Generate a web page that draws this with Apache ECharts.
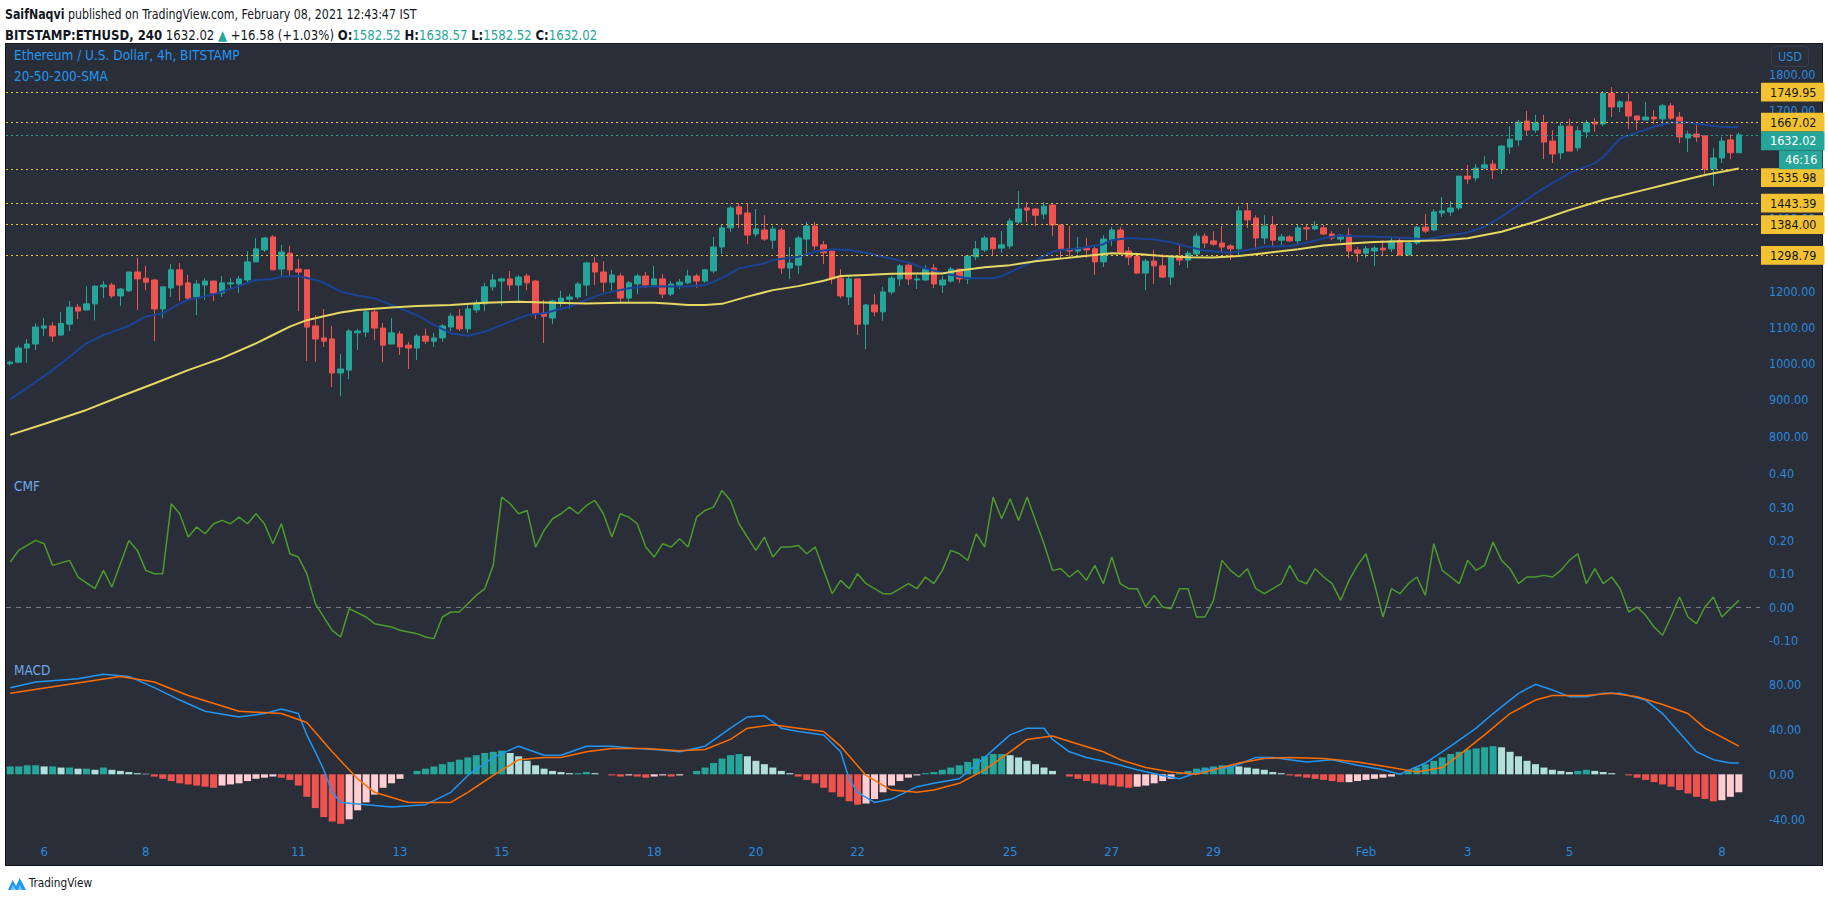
<!DOCTYPE html>
<html><head><meta charset="utf-8">
<script src="https://cdn.jsdelivr.net/npm/echarts@6.0.0/dist/echarts.min.js"></script>
<style>
html,body{margin:0;padding:0;background:#fff;width:1828px;height:902px;overflow:hidden;font-family:'DejaVu Sans Condensed','Liberation Sans Narrow',sans-serif;}
#panel{position:absolute;left:5px;top:43px;width:1816px;height:821px;background:#2a2e39;border:1px solid #14161d;}
#chart{position:absolute;left:0;top:0;width:1828px;height:902px;}
.hdr{position:absolute;left:5px;font-size:14px;color:#131722;white-space:nowrap;line-height:16px;transform-origin:0 50%;}
.tv{color:#26a69a;}
#usd{position:absolute;left:1771px;top:46px;width:36px;height:19px;border:1px solid #3a3e4a;border-radius:4px;color:#2b89dd;font-size:12.5px;line-height:19px;text-align:center;}
#foot{position:absolute;left:8px;top:874px;height:18px;font-size:13px;color:#131722;line-height:18px;transform-origin:0 50%;transform:scaleX(0.9);}
#foot svg{vertical-align:middle;margin-right:3px;}
</style></head>
<body>
<div class="hdr" style="top:6px;transform:scaleX(0.875)"><b>SaifNaqvi</b> published on TradingView.com, February 08, 2021 12:43:47 IST</div>
<div class="hdr" style="top:27px;transform:scaleX(0.93)"><b>BITSTAMP:ETHUSD, 240</b> 1632.02 <span class="tv">&#9650;</span> +16.58 (+1.03%) <b>O:</b><span class="tv">1582.52</span> <b>H:</b><span class="tv">1638.57</span> <b>L:</b><span class="tv">1582.52</span> <b>C:</b><span class="tv">1632.02</span></div>
<div id="panel"></div>
<div id="chart"></div>
<div id="usd">USD</div>
<div id="foot"><svg width="20" height="16" viewBox="0 0 20 16"><path d="M0 14 L5 4 L9 10 L13 2 L20 14 Z" fill="#2196f3"/><path d="M3 14 L5.5 9 L9 14 Z M11 14 L13 9 L16 14 Z" fill="#7fc3f7"/></svg>TradingView</div>
<script>
// ---- DATA ----
const dayTickIndex = [4,16,34,46,58,76,88,100,118,130,142,160,172,184,202];
const dayTickLabel = ['6','8','11','13','15','18','20','22','25','27','29','Feb','3','5','8'];

const open = [
1000,1004,1043,1054,1098,1104,1079,1109,1156,1148,
1165,1212,1217,1187,1201,1253,1236,1231,1151,1209,
1259,1223,1184,1217,1228,1195,1220,1220,1231,1281,
1314,1350,1261,1305,1261,1259,1104,1071,1068,974,
982,1085,1087,1143,1098,1054,1082,1051,1043,1076,
1062,1071,1101,1131,1096,1148,1165,1212,1228,1234,
1217,1242,1228,1140,1126,1167,1178,1184,1217,1278,
1253,1225,1242,1181,1220,1242,1217,1234,1192,1217,
1223,1242,1228,1256,1322,1375,1433,1416,1358,1369,
1341,1369,1264,1272,1344,1380,1328,1311,1236,1184,
1234,1109,1162,1143,1198,1234,1272,1231,1231,1264,
1217,1228,1261,1234,1295,1314,1347,1319,1325,1391,
1430,1427,1413,1438,1383,1317,1311,1319,1317,1281,
1341,1369,1311,1297,1250,1283,1270,1239,1292,1286,
1303,1352,1339,1333,1325,1317,1422,1402,1347,1383,
1341,1350,1339,1375,1372,1375,1358,1344,1355,1314,
1305,1311,1319,1317,1339,1300,1333,1377,1369,1416,
1419,1430,1518,1513,1540,1551,1538,1598,1618,1670,
1645,1665,1615,1582,1656,1596,1640,1667,1662,1747,
1709,1723,1684,1673,1681,1676,1712,1681,1623,1634,
1629,1538,1568,1618,1582.52];
const high = [
1008,1050,1068,1111,1126,1115,1143,1173,1165,1213,
1217,1228,1223,1209,1253,1292,1270,1234,1214,1275,
1278,1245,1231,1236,1228,1242,1236,1242,1311,1347,
1350,1355,1328,1325,1289,1259,1134,1151,1104,1026,
1096,1096,1151,1148,1112,1126,1090,1060,1082,1096,
1085,1109,1140,1151,1162,1176,1223,1248,1237,1256,
1245,1248,1231,1176,1176,1201,1192,1225,1281,1295,
1283,1259,1250,1228,1248,1253,1270,1248,1228,1234,
1259,1248,1261,1350,1386,1435,1444,1441,1427,1410,
1380,1375,1322,1353,1391,1391,1339,1311,1261,1242,
1236,1165,1192,1212,1242,1275,1278,1245,1272,1275,
1242,1267,1261,1297,1339,1353,1350,1366,1402,1477,
1446,1430,1446,1444,1383,1380,1350,1347,1322,1355,
1377,1377,1322,1303,1289,1314,1303,1294,1328,1311,
1361,1361,1366,1380,1330,1435,1441,1410,1410,1408,
1358,1355,1383,1383,1394,1383,1366,1358,1375,1322,
1325,1325,1341,1350,1347,1339,1380,1413,1427,1460,
1449,1518,1549,1551,1573,1562,1604,1656,1673,1698,
1687,1687,1645,1667,1676,1656,1673,1678,1753,1764,
1728,1745,1684,1723,1700,1717,1720,1695,1643,1659,
1631,1596,1626,1634,1638.57];
const low = [
995,1002,1002,1037,1076,1060,1076,1090,1123,1147,
1119,1181,1181,1159,1198,1148,1203,1062,1126,1184,
1173,1173,1134,1176,1173,1184,1209,1195,1225,1281,
1308,1259,1239,1242,1145,1007,1005,1046,935,910,
957,1038,1073,1065,1004,1054,1024,985,1010,1054,
1046,1060,1090,1090,1085,1140,1145,1201,1159,1201,
1170,1203,1123,1057,1109,1156,1151,1178,1187,1217,
1198,1201,1167,1167,1192,1209,1217,1181,1187,1206,
1220,1209,1223,1250,1303,1364,1375,1330,1350,1339,
1317,1248,1234,1248,1303,1314,1275,1220,1181,1162,
1079,1040,1131,1118,1190,1214,1217,1206,1228,1209,
1195,1223,1223,1220,1286,1308,1297,1306,1317,1386,
1391,1380,1399,1352,1292,1292,1303,1292,1245,1267,
1325,1303,1272,1247,1203,1220,1236,1217,1272,1264,
1297,1319,1325,1311,1286,1297,1375,1314,1330,1325,
1328,1336,1328,1341,1369,1355,1341,1336,1292,1281,
1292,1270,1297,1308,1300,1300,1328,1361,1366,1405,
1408,1424,1496,1504,1538,1510,1524,1579,1601,1631,
1637,1565,1554,1565,1587,1587,1623,1640,1656,1681,
1695,1648,1645,1673,1662,1656,1673,1609,1585,1612,
1524,1491,1554,1565,1582.52];
const close = [
1004,1043,1054,1101,1104,1076,1111,1156,1145,1165,
1214,1217,1187,1206,1253,1234,1225,1151,1212,1259,
1217,1181,1220,1228,1195,1223,1223,1234,1281,1317,
1347,1259,1308,1259,1253,1101,1068,1062,974,985,
1090,1090,1143,1098,1051,1085,1046,1043,1076,1062,
1071,1104,1131,1096,1151,1167,1212,1231,1234,1217,
1239,1223,1137,1131,1173,1181,1184,1220,1278,1253,
1225,1245,1181,1223,1242,1217,1234,1192,1220,1225,
1242,1228,1259,1322,1375,1430,1413,1355,1372,1344,
1372,1264,1278,1347,1380,1325,1306,1234,1187,1234,
1109,1162,1143,1198,1236,1270,1234,1234,1261,1220,
1231,1261,1234,1297,1317,1347,1317,1328,1394,1427,
1424,1410,1435,1383,1317,1311,1319,1314,1281,1344,
1369,1308,1294,1250,1283,1270,1239,1294,1286,1305,
1352,1333,1330,1322,1317,1422,1397,1347,1380,1341,
1350,1339,1375,1372,1380,1358,1347,1355,1311,1305,
1317,1319,1314,1339,1300,1333,1377,1366,1419,1422,
1430,1518,1510,1540,1549,1535,1601,1620,1667,1645,
1665,1612,1579,1656,1587,1643,1665,1662,1747,1709,
1723,1684,1673,1681,1676,1712,1678,1626,1634,1626,
1538,1568,1615,1582.52,1632.02];

// SMA lines, [bar index, value]
const sma20 = [[0,901],[5,982],[9,1056],[11,1079],[14,1104],[16,1130],[18,1139],[20,1166],[21,1176],[24,1191],[27,1214],[29,1231],[31,1234],[32,1240],[34,1242],[36,1231],[37,1224],[39,1199],[41,1188],[43,1180],[45,1162],[48,1134],[50,1107],[52,1084],[54,1077],[56,1088],[59,1116],[61,1134],[63,1139],[66,1157],[68,1176],[70,1194],[73,1208],[75,1213],[78,1213],[80,1213],[82,1217],[84,1236],[86,1263],[89,1277],[90,1286],[93,1295],[95,1309],[97,1316],[99,1314],[101,1306],[103,1295],[106,1279],[108,1263],[110,1251],[112,1240],[113,1236],[116,1236],[117,1242],[119,1263],[121,1286],[123,1309],[124,1314],[126,1318],[129,1330],[130,1341],[132,1347],[135,1343],[137,1335],[139,1323],[141,1312],[144,1306],[146,1314],[148,1323],[151,1325],[153,1334],[155,1346],[157,1354],[159,1352],[163,1349],[165,1347],[167,1343],[169,1351],[172,1362],[174,1378],[176,1406],[180,1470],[184,1526],[187,1553],[188,1570],[190,1622],[192,1638],[194,1655],[196,1666],[198,1666],[200,1659],[202,1654],[204,1653]];
const sma50 = [[0,803],[4,833],[9,872],[13,909],[17,945],[21,982],[25,1015],[29,1056],[31,1079],[33,1102],[35,1120],[37,1131],[39,1141],[41,1148],[45,1155],[48,1159],[52,1162],[56,1168],[60,1171],[64,1168],[68,1166],[72,1168],[76,1168],[78,1165],[80,1162],[82,1162],[84,1165],[87,1185],[90,1203],[93,1214],[96,1229],[98,1242],[101,1245],[104,1248],[107,1249],[110,1249],[112,1257],[115,1266],[118,1272],[121,1283],[124,1290],[126,1295],[130,1305],[133,1303],[136,1297],[139,1294],[142,1293],[145,1297],[148,1305],[152,1316],[155,1326],[158,1332],[161,1336],[164,1338],[166,1339],[169,1341],[172,1346],[176,1364],[180,1392],[184,1424],[188,1452],[192,1475],[196,1498],[200,1521],[202,1530],[204,1539]];

// price levels
const levelValues = [1749.95,1667.02,1535.98,1443.39,1384.00,1298.79];
const lastPrice = 1632.02;
const countdown = '46:16';
// scale labels that stay visible (the others sit fully under the level boxes)
const priceTicks = [800,900,1000,1100,1200,1400,1700,1800];
const cmfTicks = [-0.1,0,0.1,0.2,0.3,0.4];
const macdTicks = [-40,0,40,80];

// CMF, [bar index, value]
const cmf = [[0,0.135],[1,0.17],[3,0.2],[4,0.19],[5,0.125],[7,0.14],[8,0.09],[10,0.055],[11,0.11],[12,0.06],[14,0.2],[15,0.17],[16,0.11],[17,0.10],[18,0.1],[19,0.31],[20,0.28],[21,0.21],[22,0.24],[23,0.22],[24,0.25],[25,0.26],[26,0.25],[27,0.27],[28,0.25],[29,0.28],[30,0.25],[31,0.19],[32,0.25],[33,0.16],[34,0.15],[35,0.10],[36,0.01],[38,-0.07],[39,-0.09],[40,-0.005],[42,-0.03],[43,-0.05],[45,-0.06],[46,-0.07],[48,-0.08],[49,-0.09],[50,-0.095],[51,-0.03],[52,-0.015],[53,-0.015],[54,0.01],[55,0.035],[56,0.055],[57,0.125],[58,0.33],[59,0.31],[60,0.28],[61,0.29],[62,0.18],[63,0.23],[64,0.265],[65,0.28],[66,0.30],[67,0.28],[68,0.305],[69,0.32],[70,0.28],[71,0.21],[72,0.28],[73,0.27],[74,0.25],[75,0.18],[76,0.15],[77,0.19],[78,0.18],[79,0.205],[80,0.18],[81,0.27],[82,0.29],[83,0.30],[84,0.35],[85,0.32],[86,0.25],[87,0.21],[88,0.17],[89,0.21],[90,0.15],[91,0.18],[92,0.18],[93,0.185],[94,0.16],[95,0.18],[96,0.11],[97,0.04],[98,0.08],[99,0.055],[100,0.10],[101,0.07],[102,0.055],[103,0.04],[104,0.04],[105,0.055],[106,0.07],[107,0.055],[108,0.09],[109,0.07],[110,0.11],[111,0.17],[112,0.16],[113,0.14],[114,0.22],[115,0.18],[116,0.33],[117,0.265],[118,0.325],[119,0.26],[120,0.33],[121,0.26],[122,0.19],[123,0.11],[124,0.115],[125,0.09],[126,0.11],[127,0.08],[128,0.125],[129,0.07],[130,0.15],[131,0.07],[132,0.055],[133,0.055],[134,0.0],[135,0.035],[136,0.0],[137,-0.005],[138,0.055],[139,0.055],[140,-0.03],[141,-0.03],[142,0.02],[143,0.14],[144,0.11],[145,0.09],[146,0.115],[147,0.055],[148,0.04],[149,0.055],[150,0.07],[151,0.125],[152,0.08],[153,0.07],[154,0.115],[155,0.09],[156,0.07],[157,0.02],[158,0.08],[159,0.125],[160,0.16],[161,0.07],[162,-0.03],[163,0.055],[164,0.04],[165,0.07],[166,0.09],[167,0.035],[168,0.19],[169,0.11],[170,0.09],[171,0.07],[172,0.14],[173,0.11],[174,0.125],[175,0.195],[176,0.14],[177,0.115],[178,0.07],[179,0.09],[180,0.09],[181,0.095],[182,0.09],[183,0.11],[184,0.14],[185,0.16],[186,0.07],[187,0.115],[188,0.07],[189,0.09],[190,0.055],[191,-0.015],[192,0.0],[193,-0.025],[194,-0.06],[195,-0.085],[196,-0.03],[197,0.03],[198,-0.03],[199,-0.05],[200,0.0],[201,0.03],[202,-0.03],[204,0.02]];

// MACD line and signal, [bar index, value]
const macdLine = [[0,77],[3,82],[8,85],[11,89],[14,87],[17,77],[20,66],[23,56],[27,51],[30,54],[32,58],[34,54],[35,35],[36,20],[37,4],[38,-16],[39,-25],[42,-27],[45,-29],[49,-27],[52,-16],[54,-1],[57,15],[60,25],[63,17],[65,17],[68,25],[71,25],[74,23],[76,22],[79,20],[82,25],[85,41],[87,51],[89,52],[91,41],[93,38],[96,35],[98,20],[99,-4],[100,-16],[102,-25],[104,-22],[107,-11],[109,-8],[112,-4],[115,15],[118,35],[120,41],[122,41],[123,31],[125,20],[127,15],[130,10],[133,4],[136,-1],[138,-4],[141,4],[144,6],[147,15],[149,15],[151,13],[153,11],[156,13],[159,8],[162,4],[164,0],[167,10],[170,25],[173,41],[175,54],[178,72],[180,80],[182,75],[184,69],[186,69],[188,72],[190,72],[193,66],[195,54],[197,37],[199,20],[201,13],[203,10],[204,10]];
const signalLine = [[0,72],[6,79],[13,87],[17,82],[21,70],[27,56],[32,54],[35,46],[38,20],[41,-4],[43,-16],[47,-25],[52,-25],[54,-16],[57,-1],[60,13],[63,15],[65,15],[68,20],[71,23],[75,23],[79,21],[82,22],[85,31],[87,41],[90,44],[93,41],[96,38],[98,25],[101,-1],[104,-14],[107,-16],[109,-14],[112,-8],[115,4],[118,20],[120,31],[123,34],[126,27],[129,20],[131,13],[134,6],[137,2],[140,0],[142,4],[145,10],[148,14],[151,15],[155,14],[159,11],[163,6],[166,2],[169,6],[171,17],[174,35],[177,54],[180,66],[182,70],[186,70],[189,72],[192,69],[195,62],[198,54],[200,41],[204,25]];
const macdHist = [
7,7,8,8,7,7,6,6,5,
5,4,6,4,3,2,1,0.5,
-2,-4,-6,-8,-9,-10,
-11,-12,-10,-9,-8,-6,-4,-3,
-2,-3,-5,-10,-20,
-30,-38,-42,-44,-40,
-32,-25,-18,-12,-8,-4,
0,3,5,7,9,11,13,15,17,19,
20,21,19,16,
12,8,5,3,2,1,
1,2,1,0,-1,-2,-1,-2,-3,-2,-1,-2,-1,0,
3,6,10,14,17,18,
16,12,9,6,3,1,-2,
-5,-8,-12,-16,-20,-24,-27,-26,-22,-16,-10,
-6,-3,-1,1,2,4,
6,8,11,14,16,18,18,17,15,12,
9,6,3,0,-2,-4,
-6,-8,-9,-10,-11,-12,-11,-10,-8,-6,-4,
1,3,5,6,7,8,8,7,6,5,4,2,1,
-1,-2,-3,-4,-5,-6,-7,-7,-6,-5,-4,-3,-2,
1,3,6,9,12,15,18,20,22,23,24,25,24,
20,16,12,9,6,4,3,2,
3,4,3,2,1,0,-1,
-3,-5,-7,-9,-11,-14,-17,-20,-22,-24,-23,-20,-16];

// ---- BUILD ----
const N = open.length;
const cats = Array.from({length: N + 2}, (_, i) => String(i));
const tickMap = {};
dayTickIndex.forEach((ix, k) => tickMap[ix] = dayTickLabel[k]);
const candleData = open.map((o, i) => [o, close[i], low[i], high[i]]);
const histData = macdHist.map((v, i) => {
  const p = i > 0 ? macdHist[i - 1] : v;
  let c;
  if (v >= 0) c = v >= p ? '#26a69a' : '#b2dfdb';
  else c = v < p ? '#ef5350' : '#ffcdd2';
  return {value: v, itemStyle: {color: c}};
});

const FONT = "'DejaVu Sans Condensed','Liberation Sans Narrow',sans-serif";
const FS = 12.5;
const AXC = '#2b89dd';
const GL = 6, GW = 1754;
const grids = [
  {left: GL, top: 44, width: GW, height: 426},
  {left: GL, top: 470, width: GW, height: 184},
  {left: GL, top: 654, width: GW, height: 186}
];
function xa(i, show) {
  return {type: 'category', gridIndex: i, data: cats, boundaryGap: true,
    axisLine: {show: false}, axisTick: {show: false}, splitLine: {show: false},
    axisLabel: show ? {show: true, color: AXC, fontSize: 13, fontFamily: FONT, margin: 5,
      interval: (idx) => tickMap[idx] !== undefined,
      formatter: (v, idx) => tickMap[idx] || ''} : {show: false}};
}
function ya(i, min, max, ticks) {
  return {type: 'value', gridIndex: i, position: 'right', min: min, max: max, scale: true,
    axisLine: {show: false}, axisTick: {show: false}, splitLine: {show: false},
    axisLabel: {show: true, customValues: ticks, color: AXC, fontSize: FS, fontFamily: FONT, margin: 9,
      formatter: (v) => Number(v).toFixed(2)}};
}
// price axis: 1800 at y=74, 100 units per 36.2px
const pxPer = 0.362;
const pMax = 1800 + (74 - 44) / pxPer, pMin = 1800 - (470 - 74) / pxPer;
const cMax = (607 - 470) / 333, cMin = -(654 - 607) / 333;
const mMax = (774.3 - 654) / 1.125, mMin = -(840 - 774.3) / 1.125;

const YEL = '#f3c232', TEAL = '#26a69a';
function dottedLine(v, color) {
  return {yAxis: v, lineStyle: {color: color, type: [2, 3], width: 1}, label: {show: false}};
}
// label boxes, shifted by pixels (stacked like the price scale does)
function boxLabel(v, text, bg, fg, shiftPx, dist, pad) {
  return {yAxis: v - shiftPx / pxPer, lineStyle: {color: 'rgba(0,0,0,0)', width: 1},
    label: {show: true, position: 'end', distance: dist, backgroundColor: bg, color: fg,
      fontSize: FS, fontFamily: FONT, padding: pad, lineHeight: 14.7, formatter: text}};
}
const PAD = [2, 8, 2, 9];
const markData = levelValues.map(v => dottedLine(v, YEL));
markData.push(dottedLine(lastPrice, TEAL));
const boxShift = {'1535.98': 8};
levelValues.forEach(v => markData.push(boxLabel(v, v.toFixed(2), YEL, '#131722', boxShift[v.toFixed(2)] || 0, 1, PAD)));
markData.push(boxLabel(lastPrice, lastPrice.toFixed(2), TEAL, '#ffffff', 6, 1, PAD));
markData.push(boxLabel(lastPrice, countdown, TEAL, '#ffffff', 25, 19, [2, 5, 2, 6]));

const option = {
  animation: false,
  backgroundColor: 'transparent',
  grid: grids,
  xAxis: [xa(0, false), xa(1, false), xa(2, true)],
  yAxis: [ya(0, pMin, pMax, priceTicks), ya(1, cMin, cMax, cmfTicks), ya(2, mMin, mMax, macdTicks)],
  graphic: [
    {type: 'text', left: 14, top: 48, style: {text: 'Ethereum / U.S. Dollar, 4h, BITSTAMP', fill: '#2196f3', font: '13.5px ' + FONT}},
    {type: 'text', left: 14, top: 69, style: {text: '20-50-200-SMA', fill: '#2196f3', font: '13.5px ' + FONT}},
    {type: 'text', left: 14, top: 479, style: {text: 'CMF', fill: '#6fa8e8', font: '13.5px ' + FONT}},
    {type: 'text', left: 14, top: 663, style: {text: 'MACD', fill: '#6fa8e8', font: '13.5px ' + FONT}}
  ],
  series: [
    {type: 'candlestick', xAxisIndex: 0, yAxisIndex: 0, data: candleData, barWidth: 6,
      itemStyle: {color: TEAL, color0: '#ef5350', borderColor: TEAL, borderColor0: '#ef5350', borderWidth: 1},
      markLine: {silent: true, symbol: 'none', animation: false, data: markData}},
    {type: 'line', xAxisIndex: 0, yAxisIndex: 0, data: sma20, showSymbol: false, lineStyle: {color: '#1b4396', width: 2}, z: 3},
    {type: 'line', xAxisIndex: 0, yAxisIndex: 0, data: sma50, showSymbol: false, lineStyle: {color: '#e6d860', width: 2}, z: 3},
    {type: 'line', xAxisIndex: 1, yAxisIndex: 1, data: cmf, showSymbol: false, lineStyle: {color: '#4f9a2c', width: 1.5},
      markLine: {silent: true, symbol: 'none', label: {show: false}, data: [{yAxis: 0}], lineStyle: {color: '#787b86', type: [5, 5], width: 1}}},
    {type: 'bar', xAxisIndex: 2, yAxisIndex: 2, data: histData, barWidth: 7},
    {type: 'line', xAxisIndex: 2, yAxisIndex: 2, data: macdLine, showSymbol: false, lineStyle: {color: '#2196f3', width: 1.5}},
    {type: 'line', xAxisIndex: 2, yAxisIndex: 2, data: signalLine, showSymbol: false, lineStyle: {color: '#ff6d00', width: 1.5}}
  ]
};
const chart = echarts.init(document.getElementById('chart'), null, {renderer: 'svg'});
chart.setOption(option);
</script>
</body></html>
